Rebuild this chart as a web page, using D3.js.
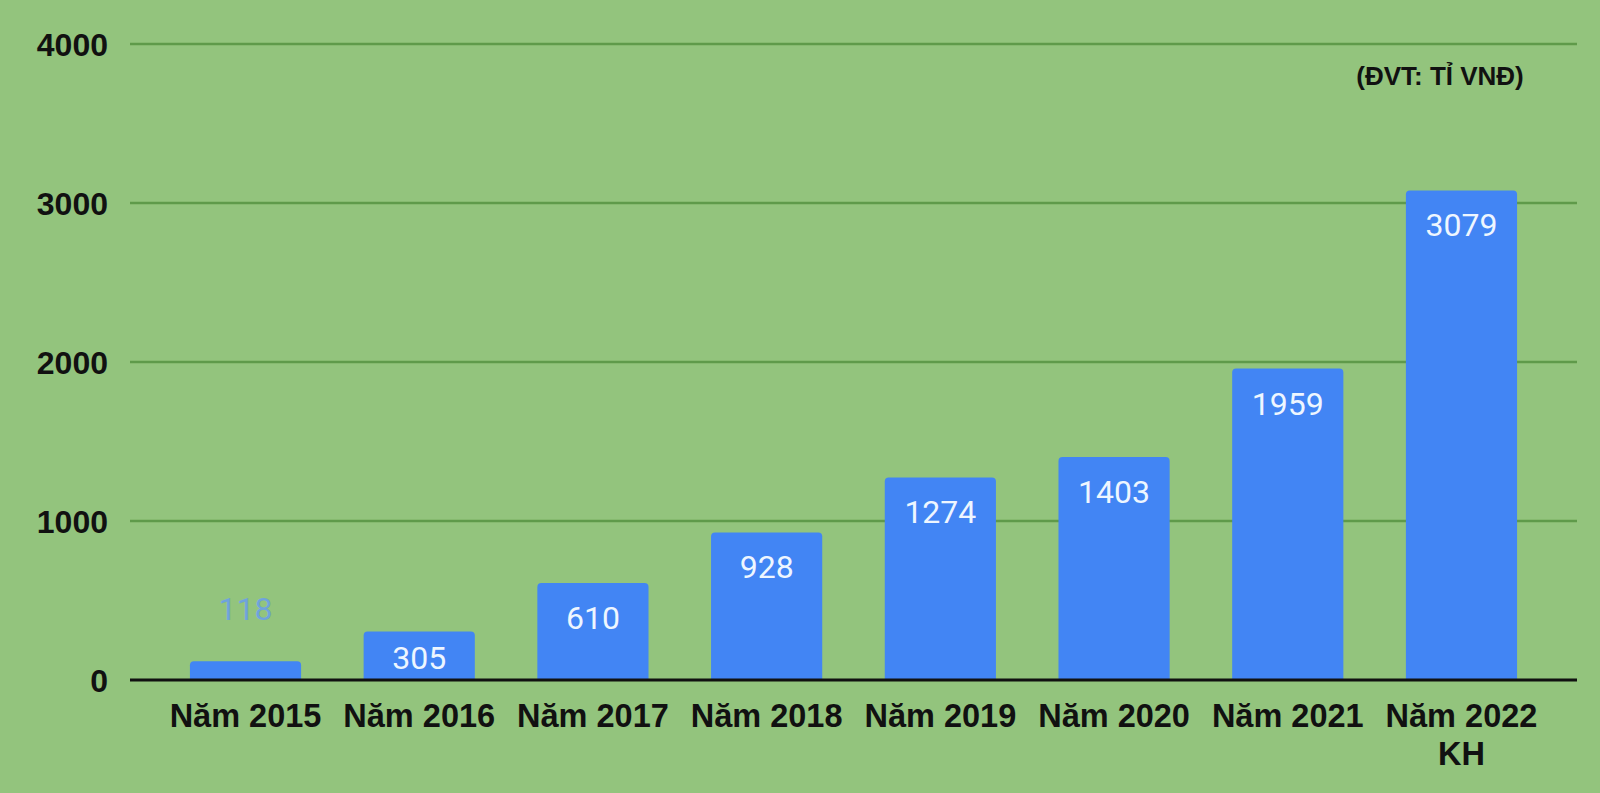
<!DOCTYPE html>
<html>
<head>
<meta charset="utf-8">
<script src="https://cdn.jsdelivr.net/npm/d3@7"></script>
<style>
  html, body { margin: 0; padding: 0; background: #93c47d; }
  svg { display: block; }
</style>
</head>
<body>
<svg id="chart"></svg>
<script>
// data
var years = ["Năm 2015", "Năm 2016", "Năm 2017", "Năm 2018", "Năm 2019", "Năm 2020", "Năm 2021", "Năm 2022|KH"];
var values = [118, 305, 610, 928, 1274, 1403, 1959, 3079];
var yTicks = [0, 1000, 2000, 3000, 4000];
var unitLabel = "(ĐVT: TỈ VNĐ)";

var width = 1600, height = 793;
var margin = {top: 44, right: 23, bottom: 113, left: 130};

var svg = d3.select("#chart").attr("width", width).attr("height", height);

svg.append("rect").attr("width", width).attr("height", height).attr("fill", "#93c47d");

var x = d3.scaleBand()
    .domain(years)
    .range([margin.left, width - margin.right])
    .paddingInner(0.36)
    .paddingOuter(0.345);

var y = d3.scaleLinear()
    .domain([0, 4000])
    .range([height - margin.bottom, margin.top]);

// gridlines
svg.append("g")
    .selectAll("line")
    .data(yTicks.filter(function(d){ return d > 0; }))
    .enter().append("line")
    .attr("x1", margin.left)
    .attr("x2", width - margin.right)
    .attr("y1", function(d){ return y(d); })
    .attr("y2", function(d){ return y(d); })
    .style("stroke", "#5f9a4a")
    .style("stroke-width", 2.5);

// y tick labels
svg.append("g")
    .selectAll("text")
    .data(yTicks)
    .enter().append("text")
    .attr("x", 108)
    .attr("y", function(d){ return y(d); })
    .attr("dy", "0.36em")
    .attr("text-anchor", "end")
    .style("font-family", "'Liberation Sans', Arial, sans-serif")
    .style("font-weight", "bold")
    .style("font-size", "32px")
    .style("fill", "#111")
    .text(function(d){ return d; });

// bars
svg.append("g")
    .selectAll("path")
    .data(values)
    .enter().append("path")
    .attr("d", function(d, i){
        var x0 = x(years[i]), w = x.bandwidth(), y0 = y(d), y1 = y(0), r = 4;
        return "M" + x0 + "," + y1 + "V" + (y0 + r) + "Q" + x0 + "," + y0 + " " + (x0 + r) + "," + y0 +
               "H" + (x0 + w - r) + "Q" + (x0 + w) + "," + y0 + " " + (x0 + w) + "," + (y0 + r) + "V" + y1 + "Z";
    })
    .style("fill", "#4285f4");

// value labels (inside the bar when it fits, above otherwise)
svg.append("g")
    .selectAll("text")
    .data(values)
    .enter().append("text")
    .attr("x", function(d, i){ return x(years[i]) + x.bandwidth() / 2; })
    .attr("y", function(d){ return d < 200 ? y(d) - 41 : Math.min(y(d) + 46, y(0) - 11); })
    .attr("text-anchor", "middle")
    .style("font-family", "Roboto, sans-serif")
    .style("font-size", "32px")
    .style("fill", function(d){ return d < 200 ? "#6fa3dc" : "#eef6ff"; })
    .text(function(d){ return d; });

// zero axis line
svg.append("line")
    .attr("x1", margin.left)
    .attr("x2", width - margin.right)
    .attr("y1", y(0))
    .attr("y2", y(0))
    .style("stroke", "#111")
    .style("stroke-width", 3);

// category labels
var cat = svg.append("g")
    .selectAll("text")
    .data(years)
    .enter().append("text")
    .attr("x", function(d){ return x(d) + x.bandwidth() / 2; })
    .attr("y", 727)
    .attr("text-anchor", "middle")
    .style("font-family", "'Liberation Sans', Arial, sans-serif")
    .style("font-weight", "bold")
    .style("font-size", "32.5px")
    .style("fill", "#111");

cat.each(function(d){
    var parts = d.split("|");
    var t = d3.select(this);
    parts.forEach(function(p, k){
        t.append("tspan")
            .attr("x", t.attr("x"))
            .attr("dy", k === 0 ? 0 : 38)
            .text(p);
    });
});

// unit label
svg.append("text")
    .attr("x", 1440)
    .attr("y", 85)
    .attr("text-anchor", "middle")
    .style("font-family", "'Liberation Sans', Arial, sans-serif")
    .style("font-weight", "bold")
    .style("font-size", "26px")
    .style("fill", "#111")
    .text(unitLabel);
</script>
</body>
</html>
